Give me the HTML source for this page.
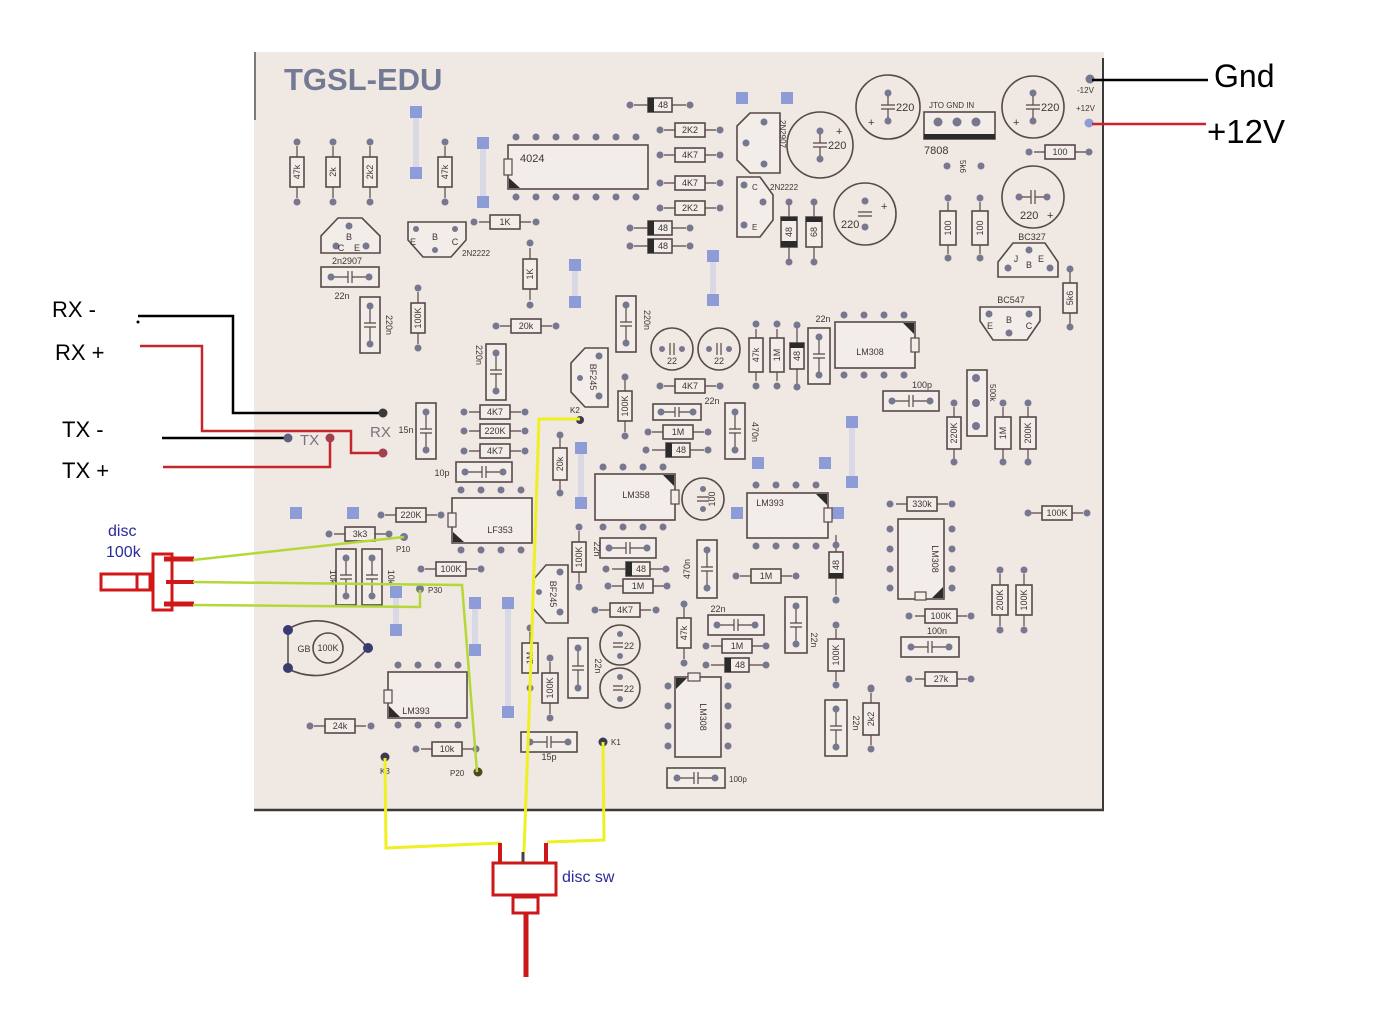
<!DOCTYPE html>
<html><head><meta charset="utf-8">
<style>
html,body{margin:0;padding:0;background:#fff;}
svg{display:block;}
.p{fill:#77778f}
.pb{fill:#8d9bd6}
.lk{fill:#d9d9e6}
.o{fill:#f3ede9;stroke:#574949;stroke-width:1.6}
.n{fill:none;stroke:#574949;stroke-width:1.6}
.l{stroke:#574949;stroke-width:1.2;fill:none}
.d{fill:#2b2b2b}
.t{font-family:"Liberation Sans",sans-serif;font-size:9px;fill:#3e3535;text-anchor:middle}
.s{font-family:"Liberation Sans",sans-serif;font-size:8px;fill:#3e3535}
.e{font-family:"Liberation Sans",sans-serif;font-size:11px;fill:#3e3535}
</style></head><body>
<svg width="1375" height="1014" viewBox="0 0 1375 1014" xmlns="http://www.w3.org/2000/svg">
<!-- board -->
<rect x="254" y="52" width="850" height="759" fill="#efe8e3"/>
<line x1="1103" y1="58" x2="1103" y2="811" stroke="#3a3a3a" stroke-width="2"/>
<line x1="254" y1="810" x2="1104" y2="810" stroke="#3a3a3a" stroke-width="2.5"/>
<line x1="255" y1="52" x2="255" y2="120" stroke="#555" stroke-width="1.5"/>
<text x="284" y="90" font-family="Liberation Sans,sans-serif" font-weight="bold" font-size="31" fill="#737a94">TGSL-EDU</text>

<!-- blue pads & links -->
<rect class="lk" x="413" y="112" width="6" height="61"/><rect class="pb" x="410" y="106" width="12" height="12"/><rect class="pb" x="410" y="167" width="12" height="12"/>
<rect class="lk" x="480" y="143" width="6" height="59"/><rect class="pb" x="477" y="137" width="12" height="12"/><rect class="pb" x="477" y="196" width="12" height="12"/>
<rect class="pb" x="736" y="92" width="12" height="12"/><rect class="pb" x="781" y="92" width="12" height="12"/>
<rect class="lk" x="710" y="256" width="6" height="44"/><rect class="pb" x="707" y="250" width="12" height="12"/><rect class="pb" x="707" y="294" width="12" height="12"/>
<rect class="lk" x="572" y="265" width="6" height="37"/><rect class="pb" x="569" y="259" width="12" height="12"/><rect class="pb" x="569" y="296" width="12" height="12"/>
<rect class="pb" x="290" y="507" width="12" height="12"/><rect class="pb" x="347" y="507" width="12" height="12"/>
<rect class="lk" x="578" y="448" width="6" height="55"/><rect class="pb" x="575" y="442" width="12" height="12"/><rect class="pb" x="575" y="497" width="12" height="12"/>
<rect class="lk" x="849" y="422" width="6" height="60"/><rect class="pb" x="846" y="416" width="12" height="12"/><rect class="pb" x="846" y="476" width="12" height="12"/>
<rect class="pb" x="752" y="457" width="12" height="12"/><rect class="pb" x="819" y="457" width="12" height="12"/>
<rect class="pb" x="832" y="507" width="12" height="12"/><rect class="pb" x="731" y="507" width="12" height="12"/>
<rect class="lk" x="393" y="592" width="6" height="38"/><rect class="pb" x="390" y="586" width="12" height="12"/><rect class="pb" x="390" y="624" width="12" height="12"/>
<rect class="lk" x="472" y="603" width="6" height="47"/><rect class="pb" x="469" y="597" width="12" height="12"/><rect class="pb" x="469" y="644" width="12" height="12"/>
<rect class="lk" x="505" y="603" width="6" height="109"/><rect class="pb" x="502" y="597" width="12" height="12"/><rect class="pb" x="502" y="706" width="12" height="12"/>

<!-- horizontal resistors -->
<g transform="translate(690,130)"><path class="l" d="M-26 0H26"/><rect class="o" x="-15" y="-7" width="30" height="14"/><circle class="p" cx="-30" r="3.5"/><circle class="p" cx="30" r="3.5"/><text class="t" y="3">2K2</text></g>
<g transform="translate(690,155)"><path class="l" d="M-26 0H26"/><rect class="o" x="-15" y="-7" width="30" height="14"/><circle class="p" cx="-30" r="3.5"/><circle class="p" cx="30" r="3.5"/><text class="t" y="3">4K7</text></g>
<g transform="translate(690,183)"><path class="l" d="M-26 0H26"/><rect class="o" x="-15" y="-7" width="30" height="14"/><circle class="p" cx="-30" r="3.5"/><circle class="p" cx="30" r="3.5"/><text class="t" y="3">4K7</text></g>
<g transform="translate(690,208)"><path class="l" d="M-26 0H26"/><rect class="o" x="-15" y="-7" width="30" height="14"/><circle class="p" cx="-30" r="3.5"/><circle class="p" cx="30" r="3.5"/><text class="t" y="3">2K2</text></g>
<g transform="translate(505,222)"><path class="l" d="M-26 0H26"/><rect class="o" x="-15" y="-7" width="30" height="14"/><circle class="p" cx="-31" r="3.5"/><circle class="p" cx="31" r="3.5"/><text class="t" y="3">1K</text></g>
<g transform="translate(526,326)"><path class="l" d="M-26 0H26"/><rect class="o" x="-15" y="-7" width="30" height="14"/><circle class="p" cx="-30" r="3.5"/><circle class="p" cx="30" r="3.5"/><text class="t" y="3">20k</text></g>
<g transform="translate(1060,152)"><path class="l" d="M-26 0H26"/><rect class="o" x="-15" y="-7" width="30" height="14"/><circle class="p" cx="-31" r="3.5"/><circle class="p" cx="29" r="3.5"/><text class="t" y="3">100</text></g>
<g transform="translate(690,386)"><path class="l" d="M-26 0H26"/><rect class="o" x="-15" y="-7" width="30" height="14"/><circle class="p" cx="-30" r="3.5"/><circle class="p" cx="30" r="3.5"/><text class="t" y="3">4K7</text></g>
<g transform="translate(678,432)"><path class="l" d="M-26 0H26"/><rect class="o" x="-15" y="-7" width="30" height="14"/><circle class="p" cx="-30" r="3.5"/><circle class="p" cx="30" r="3.5"/><text class="t" y="3">1M</text></g>
<g transform="translate(495,412)"><path class="l" d="M-26 0H26"/><rect class="o" x="-15" y="-7" width="30" height="14"/><circle class="p" cx="-31" r="3.5"/><circle class="p" cx="30" r="3.5"/><text class="t" y="3">4K7</text></g>
<g transform="translate(495,431)"><path class="l" d="M-26 0H26"/><rect class="o" x="-15" y="-7" width="30" height="14"/><circle class="p" cx="-31" r="3.5"/><circle class="p" cx="30" r="3.5"/><text class="t" y="3">220K</text></g>
<g transform="translate(495,451)"><path class="l" d="M-26 0H26"/><rect class="o" x="-15" y="-7" width="30" height="14"/><circle class="p" cx="-31" r="3.5"/><circle class="p" cx="30" r="3.5"/><text class="t" y="3">4K7</text></g>
<g transform="translate(411,515)"><path class="l" d="M-26 0H26"/><rect class="o" x="-15" y="-7" width="30" height="14"/><circle class="p" cx="-30" r="3.5"/><circle class="p" cx="30" r="3.5"/><text class="t" y="3">220K</text></g>
<g transform="translate(360,534)"><path class="l" d="M-26 0H26"/><rect class="o" x="-15" y="-7" width="30" height="14"/><circle class="p" cx="-31" r="3.5"/><circle class="p" cx="29" r="3.5"/><text class="t" y="3">3k3</text></g>
<g transform="translate(451,569)"><path class="l" d="M-26 0H26"/><rect class="o" x="-15" y="-7" width="30" height="14"/><circle class="p" cx="-30" r="3.5"/><circle class="p" cx="30" r="3.5"/><text class="t" y="3">100K</text></g>
<g transform="translate(638,586)"><path class="l" d="M-26 0H26"/><rect class="o" x="-15" y="-7" width="30" height="14"/><circle class="p" cx="-30" r="3.5"/><circle class="p" cx="29" r="3.5"/><text class="t" y="3">1M</text></g>
<g transform="translate(625,610)"><path class="l" d="M-26 0H26"/><rect class="o" x="-15" y="-7" width="30" height="14"/><circle class="p" cx="-30" r="3.5"/><circle class="p" cx="31" r="3.5"/><text class="t" y="3">4K7</text></g>
<g transform="translate(766,576)"><path class="l" d="M-26 0H26"/><rect class="o" x="-15" y="-7" width="30" height="14"/><circle class="p" cx="-30" r="3.5"/><circle class="p" cx="30" r="3.5"/><text class="t" y="3">1M</text></g>
<g transform="translate(737,646)"><path class="l" d="M-26 0H26"/><rect class="o" x="-15" y="-7" width="30" height="14"/><circle class="p" cx="-31" r="3.5"/><circle class="p" cx="29" r="3.5"/><text class="t" y="3">1M</text></g>
<g transform="translate(922,504)"><path class="l" d="M-26 0H26"/><rect class="o" x="-15" y="-7" width="30" height="14"/><circle class="p" cx="-32" r="3.5"/><circle class="p" cx="30" r="3.5"/><text class="t" y="3">330k</text></g>
<g transform="translate(941,616)"><path class="l" d="M-26 0H26"/><rect class="o" x="-16" y="-7" width="32" height="14"/><circle class="p" cx="-32" r="3.5"/><circle class="p" cx="30" r="3.5"/><text class="t" y="3">100K</text></g>
<g transform="translate(941,679)"><path class="l" d="M-26 0H26"/><rect class="o" x="-16" y="-7" width="32" height="14"/><circle class="p" cx="-32" r="3.5"/><circle class="p" cx="30" r="3.5"/><text class="t" y="3">27k</text></g>
<g transform="translate(1057,513)"><path class="l" d="M-26 0H26"/><rect class="o" x="-15" y="-7" width="30" height="14"/><circle class="p" cx="-29" r="3.5"/><circle class="p" cx="30" r="3.5"/><text class="t" y="3">100K</text></g>
<g transform="translate(340,726)"><path class="l" d="M-26 0H26"/><rect class="o" x="-15" y="-7" width="30" height="14"/><circle class="p" cx="-30" r="3.5"/><circle class="p" cx="31" r="3.5"/><text class="t" y="3">24k</text></g>
<g transform="translate(447,749)"><path class="l" d="M-26 0H26"/><rect class="o" x="-15" y="-7" width="30" height="14"/><circle class="p" cx="-31" r="3.5"/><circle class="p" cx="29" r="3.5"/><text class="t" y="3">10k</text></g>

<!-- horizontal diodes -->
<g transform="translate(660,105)"><path class="l" d="M-26 0H26"/><rect class="o" x="-12" y="-7" width="24" height="14"/><rect class="d" x="-12" y="-7" width="6" height="14"/><circle class="p" cx="-30" r="3.5"/><circle class="p" cx="30" r="3.5"/><text class="t" x="3" y="3">48</text></g>
<g transform="translate(660,228)"><path class="l" d="M-26 0H26"/><rect class="o" x="-12" y="-7" width="24" height="14"/><rect class="d" x="-12" y="-7" width="6" height="14"/><circle class="p" cx="-30" r="3.5"/><circle class="p" cx="30" r="3.5"/><text class="t" x="3" y="3">48</text></g>
<g transform="translate(660,246)"><path class="l" d="M-26 0H26"/><rect class="o" x="-12" y="-7" width="24" height="14"/><rect class="d" x="-12" y="-7" width="6" height="14"/><circle class="p" cx="-30" r="3.5"/><circle class="p" cx="30" r="3.5"/><text class="t" x="3" y="3">48</text></g>
<g transform="translate(678,450)"><path class="l" d="M-26 0H26"/><rect class="o" x="-12" y="-7" width="24" height="14"/><rect class="d" x="-12" y="-7" width="6" height="14"/><circle class="p" cx="-32" r="3.5"/><circle class="p" cx="30" r="3.5"/><text class="t" x="3" y="3">48</text></g>
<g transform="translate(638,569)"><path class="l" d="M-26 0H26"/><rect class="o" x="-12" y="-7" width="24" height="14"/><rect class="d" x="-12" y="-7" width="6" height="14"/><circle class="p" cx="-32" r="3.5"/><circle class="p" cx="28" r="3.5"/><text class="t" x="3" y="3">48</text></g>
<g transform="translate(737,665)"><path class="l" d="M-26 0H26"/><rect class="o" x="-12" y="-7" width="24" height="14"/><rect class="d" x="-12" y="-7" width="6" height="14"/><circle class="p" cx="-31" r="3.5"/><circle class="p" cx="29" r="3.5"/><text class="t" x="3" y="3">48</text></g>

<!-- vertical resistors -->
<g transform="translate(297,172) rotate(-90)"><path class="l" d="M-26 0H26"/><rect class="o" x="-15" y="-7" width="30" height="14"/><circle class="p" cx="-30" r="3.5"/><circle class="p" cx="30" r="3.5"/><text class="t" y="3">47k</text></g>
<g transform="translate(333,172) rotate(-90)"><path class="l" d="M-26 0H26"/><rect class="o" x="-15" y="-7" width="30" height="14"/><circle class="p" cx="-30" r="3.5"/><circle class="p" cx="30" r="3.5"/><text class="t" y="3">2k</text></g>
<g transform="translate(370,172) rotate(-90)"><path class="l" d="M-26 0H26"/><rect class="o" x="-15" y="-7" width="30" height="14"/><circle class="p" cx="-30" r="3.5"/><circle class="p" cx="30" r="3.5"/><text class="t" y="3">2k2</text></g>
<g transform="translate(445,172) rotate(-90)"><path class="l" d="M-26 0H26"/><rect class="o" x="-15" y="-7" width="30" height="14"/><circle class="p" cx="-30" r="3.5"/><circle class="p" cx="30" r="3.5"/><text class="t" y="3">47k</text></g>
<g transform="translate(530,274) rotate(-90)"><path class="l" d="M-26 0H26"/><rect class="o" x="-15" y="-7" width="30" height="14"/><circle class="p" cx="-31" r="3.5"/><circle class="p" cx="31" r="3.5"/><text class="t" y="3">1K</text></g>
<g transform="translate(418,318) rotate(-90)"><path class="l" d="M-26 0H26"/><rect class="o" x="-15" y="-7" width="30" height="14"/><circle class="p" cx="-30" r="3.5"/><circle class="p" cx="30" r="3.5"/><text class="t" y="3">100K</text></g>
<g transform="translate(948,228) rotate(-90)"><path class="l" d="M-26 0H26"/><rect class="o" x="-17" y="-8" width="34" height="16"/><circle class="p" cx="-30" r="3.5"/><circle class="p" cx="30" r="3.5"/><text class="t" y="3">100</text></g>
<g transform="translate(980,228) rotate(-90)"><path class="l" d="M-26 0H26"/><rect class="o" x="-17" y="-8" width="34" height="16"/><circle class="p" cx="-30" r="3.5"/><circle class="p" cx="30" r="3.5"/><text class="t" y="3">100</text></g>
<g transform="translate(1070,298) rotate(-90)"><path class="l" d="M-26 0H26"/><rect class="o" x="-15" y="-7" width="30" height="14"/><circle class="p" cx="-29" r="3.5"/><circle class="p" cx="29" r="3.5"/><text class="t" y="3">5k6</text></g>
<g transform="translate(756,355) rotate(-90)"><path class="l" d="M-26 0H26"/><rect class="o" x="-17" y="-7" width="34" height="14"/><circle class="p" cx="-31" r="3.5"/><circle class="p" cx="31" r="3.5"/><text class="t" y="3">47k</text></g>
<g transform="translate(777,355) rotate(-90)"><path class="l" d="M-26 0H26"/><rect class="o" x="-17" y="-7" width="34" height="14"/><circle class="p" cx="-31" r="3.5"/><circle class="p" cx="31" r="3.5"/><text class="t" y="3">1M</text></g>
<g transform="translate(625,406) rotate(-90)"><path class="l" d="M-26 0H26"/><rect class="o" x="-15" y="-7" width="30" height="14"/><circle class="p" cx="-30" r="3.5"/><circle class="p" cx="29" r="3.5"/><text class="t" y="3">100K</text></g>
<g transform="translate(560,464) rotate(-90)"><path class="l" d="M-26 0H26"/><rect class="o" x="-16" y="-7" width="32" height="14"/><circle class="p" cx="-29" r="3.5"/><circle class="p" cx="29" r="3.5"/><text class="t" y="3">20k</text></g>
<g transform="translate(954,433) rotate(-90)"><path class="l" d="M-26 0H26"/><rect class="o" x="-16" y="-7" width="32" height="14"/><circle class="p" cx="-29" r="3.5"/><circle class="p" cx="30" r="3.5"/><text class="t" y="3">220K</text></g>
<g transform="translate(1003,433) rotate(-90)"><path class="l" d="M-26 0H26"/><rect class="o" x="-16" y="-8" width="32" height="16"/><circle class="p" cx="-29" r="3.5"/><circle class="p" cx="30" r="3.5"/><text class="t" y="3">1M</text></g>
<g transform="translate(1028,433) rotate(-90)"><path class="l" d="M-26 0H26"/><rect class="o" x="-16" y="-8" width="32" height="16"/><circle class="p" cx="-29" r="3.5"/><circle class="p" cx="30" r="3.5"/><text class="t" y="3">200K</text></g>
<g transform="translate(579,557) rotate(-90)"><path class="l" d="M-26 0H26"/><rect class="o" x="-15" y="-7" width="30" height="14"/><circle class="p" cx="-30" r="3.5"/><circle class="p" cx="30" r="3.5"/><text class="t" y="3">100K</text></g>
<g transform="translate(684,633) rotate(-90)"><path class="l" d="M-26 0H26"/><rect class="o" x="-15" y="-7" width="30" height="14"/><circle class="p" cx="-30" r="3.5"/><circle class="p" cx="29" r="3.5"/><text class="t" y="3">47k</text></g>
<g transform="translate(836,655) rotate(-90)"><path class="l" d="M-26 0H26"/><rect class="o" x="-16" y="-8" width="32" height="16"/><circle class="p" cx="-30" r="3.5"/><circle class="p" cx="30" r="3.5"/><text class="t" y="3">100K</text></g>
<g transform="translate(530,658) rotate(-90)"><path class="l" d="M-26 0H26"/><rect class="o" x="-15" y="-8" width="30" height="16"/><circle class="p" cx="-30" r="3.5"/><circle class="p" cx="30" r="3.5"/><text class="t" y="3">1M</text></g>
<g transform="translate(550,688) rotate(-90)"><path class="l" d="M-26 0H26"/><rect class="o" x="-15" y="-8" width="30" height="16"/><circle class="p" cx="-30" r="3.5"/><circle class="p" cx="30" r="3.5"/><text class="t" y="3">100K</text></g>
<g transform="translate(871,719) rotate(-90)"><path class="l" d="M-26 0H26"/><rect class="o" x="-16" y="-8" width="32" height="16"/><circle class="p" cx="-30" r="3.5"/><circle class="p" cx="30" r="3.5"/><text class="t" y="3">2k2</text></g>
<g transform="translate(1000,600) rotate(-90)"><path class="l" d="M-26 0H26"/><rect class="o" x="-15" y="-8" width="30" height="16"/><circle class="p" cx="-30" r="3.5"/><circle class="p" cx="30" r="3.5"/><text class="t" y="3">200K</text></g>
<g transform="translate(1024,600) rotate(-90)"><path class="l" d="M-26 0H26"/><rect class="o" x="-15" y="-8" width="30" height="16"/><circle class="p" cx="-30" r="3.5"/><circle class="p" cx="30" r="3.5"/><text class="t" y="3">100K</text></g>

<!-- vertical diodes -->
<g transform="translate(789,232) rotate(-90)"><path class="l" d="M-30 0H30"/><rect class="o" x="-15" y="-8" width="30" height="16"/><rect class="d" x="-15" y="-8" width="6" height="16"/><rect class="d" x="11" y="-8" width="4" height="16"/><circle class="p" cx="-30" r="3.5"/><circle class="p" cx="30" r="3.5"/><text class="t" y="3">48</text></g>
<g transform="translate(814,232) rotate(-90)"><path class="l" d="M-30 0H30"/><rect class="o" x="-15" y="-8" width="30" height="16"/><rect class="d" x="10" y="-8" width="5" height="16"/><circle class="p" cx="-30" r="3.5"/><circle class="p" cx="30" r="3.5"/><text class="t" y="3">68</text></g>
<g transform="translate(797,356) rotate(-90)"><path class="l" d="M-30 0H30"/><rect class="o" x="-13" y="-7" width="26" height="14"/><rect class="d" x="8" y="-7" width="5" height="14"/><circle class="p" cx="-31" r="3.5"/><circle class="p" cx="31" r="3.5"/><text class="t" y="3">48</text></g>
<g transform="translate(836,565) rotate(-90)"><path class="l" d="M-30 0H30"/><rect class="o" x="-13" y="-7" width="26" height="14"/><rect class="d" x="-13" y="-7" width="5" height="14"/><circle class="p" cx="-35" r="3.5"/><circle class="p" cx="20" r="3.5"/><text class="t" y="3">48</text></g>

<!-- vertical caps -->
<g transform="translate(370,325) rotate(90)"><rect class="o" x="-28" y="-10" width="56" height="20"/><path class="l" d="M-19 0H-2M2 0H19M-2-6V6M2-6V6"/><circle class="p" cx="-19" r="3.5"/><circle class="p" cx="19" r="3.5"/></g>
<g transform="translate(626,324) rotate(90)"><rect class="o" x="-28" y="-10" width="56" height="20"/><path class="l" d="M-19 0H-2M2 0H19M-2-6V6M2-6V6"/><circle class="p" cx="-19" r="3.5"/><circle class="p" cx="19" r="3.5"/></g>
<g transform="translate(819,356) rotate(90)"><rect class="o" x="-28" y="-11" width="56" height="22"/><path class="l" d="M-19 0H-2M2 0H19M-2-6V6M2-6V6"/><circle class="p" cx="-19" r="3.5"/><circle class="p" cx="19" r="3.5"/></g>
<g transform="translate(496,372) rotate(90)"><rect class="o" x="-28" y="-10" width="56" height="20"/><path class="l" d="M-19 0H-2M2 0H19M-2-6V6M2-6V6"/><circle class="p" cx="-19" r="3.5"/><circle class="p" cx="19" r="3.5"/></g>
<g transform="translate(426,431) rotate(90)"><rect class="o" x="-28" y="-10" width="56" height="20"/><path class="l" d="M-19 0H-2M2 0H19M-2-6V6M2-6V6"/><circle class="p" cx="-19" r="3.5"/><circle class="p" cx="19" r="3.5"/></g>
<g transform="translate(735,431) rotate(90)"><rect class="o" x="-28" y="-10" width="56" height="20"/><path class="l" d="M-19 0H-2M2 0H19M-2-6V6M2-6V6"/><circle class="p" cx="-19" r="3.5"/><circle class="p" cx="19" r="3.5"/></g>
<g transform="translate(346,577) rotate(90)"><rect class="o" x="-28" y="-10" width="56" height="20"/><path class="l" d="M-19 0H-2M2 0H19M-2-6V6M2-6V6"/><circle class="p" cx="-19" r="3.5"/><circle class="p" cx="19" r="3.5"/></g>
<g transform="translate(372,577) rotate(90)"><rect class="o" x="-28" y="-10" width="56" height="20"/><path class="l" d="M-19 0H-2M2 0H19M-2-6V6M2-6V6"/><circle class="p" cx="-19" r="3.5"/><circle class="p" cx="19" r="3.5"/></g>
<g transform="translate(707,569) rotate(90)"><rect class="o" x="-29" y="-10" width="58" height="20"/><path class="l" d="M-19 0H-2M2 0H19M-2-6V6M2-6V6"/><circle class="p" cx="-19" r="3.5"/><circle class="p" cx="19" r="3.5"/></g>
<g transform="translate(796,625) rotate(90)"><rect class="o" x="-28" y="-11" width="56" height="22"/><path class="l" d="M-19 0H-2M2 0H19M-2-6V6M2-6V6"/><circle class="p" cx="-19" r="3.5"/><circle class="p" cx="19" r="3.5"/></g>
<g transform="translate(578,668) rotate(90)"><rect class="o" x="-30" y="-10" width="60" height="20"/><path class="l" d="M-20 0H-2M2 0H20M-2-6V6M2-6V6"/><circle class="p" cx="-20" r="3.5"/><circle class="p" cx="20" r="3.5"/></g>
<g transform="translate(836,728) rotate(90)"><rect class="o" x="-28" y="-11" width="56" height="22"/><path class="l" d="M-19 0H-2M2 0H19M-2-6V6M2-6V6"/><circle class="p" cx="-19" r="3.5"/><circle class="p" cx="19" r="3.5"/></g>

<!-- horizontal caps -->
<g transform="translate(350,277)"><rect class="o" x="-29" y="-10" width="58" height="20"/><path class="l" d="M-19 0H-2M2 0H19M-2-6V6M2-6V6"/><circle class="p" cx="-19" r="3.5"/><circle class="p" cx="19" r="3.5"/></g>
<g transform="translate(484,472)"><rect class="o" x="-28" y="-10" width="56" height="20"/><path class="l" d="M-19 0H-2M2 0H19M-2-6V6M2-6V6"/><circle class="p" cx="-19" r="3.5"/><circle class="p" cx="19" r="3.5"/></g>
<g transform="translate(911,401)"><rect class="o" x="-28" y="-10" width="56" height="20"/><path class="l" d="M-19 0H-2M2 0H19M-2-6V6M2-6V6"/><circle class="p" cx="-19" r="3.5"/><circle class="p" cx="19" r="3.5"/></g>
<g transform="translate(677,412)"><rect class="o" x="-24" y="-8" width="48" height="16"/><path class="l" d="M-16 0H-2M2 0H16M-2-5V5M2-5V5"/><circle class="p" cx="-16" r="3.5"/><circle class="p" cx="16" r="3.5"/></g>
<g transform="translate(628,548)"><rect class="o" x="-28" y="-10" width="56" height="20"/><path class="l" d="M-19 0H-2M2 0H19M-2-6V6M2-6V6"/><circle class="p" cx="-19" r="3.5"/><circle class="p" cx="19" r="3.5"/></g>
<g transform="translate(736,625)"><rect class="o" x="-28" y="-10" width="56" height="20"/><path class="l" d="M-19 0H-2M2 0H19M-2-6V6M2-6V6"/><circle class="p" cx="-19" r="3.5"/><circle class="p" cx="19" r="3.5"/></g>
<g transform="translate(930,647)"><rect class="o" x="-29" y="-10" width="58" height="20"/><path class="l" d="M-19 0H-2M2 0H19M-2-6V6M2-6V6"/><circle class="p" cx="-19" r="3.5"/><circle class="p" cx="19" r="3.5"/></g>
<g transform="translate(549,742)"><rect class="o" x="-28" y="-10" width="56" height="20"/><path class="l" d="M-19 0H-2M2 0H19M-2-6V6M2-6V6"/><circle class="p" cx="-19" r="3.5"/><circle class="p" cx="19" r="3.5"/></g>
<g transform="translate(696,778)"><rect class="o" x="-29" y="-10" width="58" height="20"/><path class="l" d="M-19 0H-2M2 0H19M-2-6V6M2-6V6"/><circle class="p" cx="-19" r="3.5"/><circle class="p" cx="19" r="3.5"/></g>

<!-- cap labels -->
<text class="t" x="342" y="299">22n</text>
<text class="t" x="442" y="476">10p</text>
<text class="t" x="922" y="388">100p</text>
<text class="t" x="712" y="404">22n</text>
<text class="t" x="937" y="634">100n</text>
<text class="t" x="549" y="760">15p</text>
<text class="s" x="729" y="782">100p</text>
<text class="t" x="718" y="612">22n</text>
<text class="t" x="823" y="322">22n</text>
<text class="t" x="406" y="433">15n</text>
<text class="t" transform="translate(386,325) rotate(90)">220n</text>
<text class="t" transform="translate(644,320) rotate(90)">220n</text>
<text class="t" transform="translate(476,355) rotate(90)">220n</text>
<text class="t" transform="translate(752,432) rotate(90)">470n</text>
<text class="t" transform="translate(690,569) rotate(-90)">470n</text>
<text class="t" transform="translate(811,640) rotate(90)">22n</text>
<text class="t" transform="translate(595,666) rotate(90)">22n</text>
<text class="t" transform="translate(853,723) rotate(90)">22n</text>
<text class="t" transform="translate(594,549) rotate(90)">22n</text>
<text class="t" transform="translate(330,577) rotate(90)">10k</text>
<text class="t" transform="translate(388,577) rotate(90)">10k</text>

<!-- ICs -->
<g><rect class="o" x="508" y="145" width="140" height="44"/><rect x="504" y="159" width="8" height="16" fill="#f3ede9" stroke="#574949" stroke-width="1.2"/><path class="d" d="M509 178L509 188L520 188Z"/><text class="e" x="520" y="162">4024</text>
<circle class="p" cx="516" cy="137" r="3.5"/><circle class="p" cx="536" cy="137" r="3.5"/><circle class="p" cx="556" cy="137" r="3.5"/><circle class="p" cx="576" cy="137" r="3.5"/><circle class="p" cx="596" cy="137" r="3.5"/><circle class="p" cx="616" cy="137" r="3.5"/><circle class="p" cx="636" cy="137" r="3.5"/>
<circle class="p" cx="516" cy="197" r="3.5"/><circle class="p" cx="536" cy="197" r="3.5"/><circle class="p" cx="556" cy="197" r="3.5"/><circle class="p" cx="576" cy="197" r="3.5"/><circle class="p" cx="596" cy="197" r="3.5"/><circle class="p" cx="616" cy="197" r="3.5"/><circle class="p" cx="636" cy="197" r="3.5"/></g>

<g><rect class="o" x="835" y="322" width="80" height="46"/><rect x="911" y="338" width="8" height="14" fill="#f3ede9" stroke="#574949" stroke-width="1.2"/><path class="d" d="M903 323L914 323L914 334Z"/><text class="t" x="870" y="355">LM308</text>
<circle class="p" cx="844" cy="315" r="3.5"/><circle class="p" cx="864" cy="315" r="3.5"/><circle class="p" cx="884" cy="315" r="3.5"/><circle class="p" cx="904" cy="315" r="3.5"/>
<circle class="p" cx="844" cy="375" r="3.5"/><circle class="p" cx="864" cy="375" r="3.5"/><circle class="p" cx="884" cy="375" r="3.5"/><circle class="p" cx="904" cy="375" r="3.5"/></g>

<g><rect class="o" x="452" y="498" width="80" height="45"/><rect x="448" y="513" width="8" height="14" fill="#f3ede9" stroke="#574949" stroke-width="1.2"/><path class="d" d="M453 532L453 542L464 542Z"/><text class="t" x="500" y="533">LF353</text>
<circle class="p" cx="461" cy="490" r="3.5"/><circle class="p" cx="481" cy="490" r="3.5"/><circle class="p" cx="501" cy="490" r="3.5"/><circle class="p" cx="521" cy="490" r="3.5"/>
<circle class="p" cx="461" cy="550" r="3.5"/><circle class="p" cx="481" cy="550" r="3.5"/><circle class="p" cx="501" cy="550" r="3.5"/><circle class="p" cx="521" cy="550" r="3.5"/></g>

<g><rect class="o" x="595" y="474" width="80" height="46"/><rect x="671" y="490" width="8" height="14" fill="#f3ede9" stroke="#574949" stroke-width="1.2"/><path class="d" d="M663 475L674 475L674 486Z"/><text class="t" x="636" y="498">LM358</text>
<circle class="p" cx="603" cy="467" r="3.5"/><circle class="p" cx="623" cy="467" r="3.5"/><circle class="p" cx="643" cy="467" r="3.5"/><circle class="p" cx="663" cy="467" r="3.5"/>
<circle class="p" cx="603" cy="527" r="3.5"/><circle class="p" cx="623" cy="527" r="3.5"/><circle class="p" cx="643" cy="527" r="3.5"/><circle class="p" cx="663" cy="527" r="3.5"/></g>

<g><rect class="o" x="747" y="493" width="81" height="45"/><rect x="824" y="508" width="8" height="14" fill="#f3ede9" stroke="#574949" stroke-width="1.2"/><path class="d" d="M816 494L827 494L827 505Z"/><text class="t" x="770" y="506">LM393</text>
<circle class="p" cx="756" cy="485" r="3.5"/><circle class="p" cx="776" cy="485" r="3.5"/><circle class="p" cx="796" cy="485" r="3.5"/><circle class="p" cx="816" cy="485" r="3.5"/>
<circle class="p" cx="756" cy="546" r="3.5"/><circle class="p" cx="776" cy="546" r="3.5"/><circle class="p" cx="796" cy="546" r="3.5"/><circle class="p" cx="816" cy="546" r="3.5"/></g>

<g><rect class="o" x="388" y="672" width="79" height="46"/><rect x="384" y="690" width="8" height="13" fill="#f3ede9" stroke="#574949" stroke-width="1.2"/><path class="d" d="M389 706L389 717L400 717Z"/><text class="t" x="416" y="714">LM393</text>
<circle class="p" cx="398" cy="665" r="3.5"/><circle class="p" cx="418" cy="665" r="3.5"/><circle class="p" cx="438" cy="665" r="3.5"/><circle class="p" cx="458" cy="665" r="3.5"/>
<circle class="p" cx="398" cy="725" r="3.5"/><circle class="p" cx="418" cy="725" r="3.5"/><circle class="p" cx="438" cy="725" r="3.5"/><circle class="p" cx="458" cy="725" r="3.5"/></g>

<g><rect class="o" x="675" y="677" width="46" height="80"/><rect x="688" y="673" width="12" height="8" fill="#f3ede9" stroke="#574949" stroke-width="1.2"/><path class="d" d="M676 678L687 678L676 689Z"/><text class="t" transform="translate(700,717) rotate(90)">LM308</text>
<circle class="p" cx="668" cy="686" r="3.5"/><circle class="p" cx="668" cy="706" r="3.5"/><circle class="p" cx="668" cy="726" r="3.5"/><circle class="p" cx="668" cy="746" r="3.5"/>
<circle class="p" cx="728" cy="686" r="3.5"/><circle class="p" cx="728" cy="706" r="3.5"/><circle class="p" cx="728" cy="726" r="3.5"/><circle class="p" cx="728" cy="746" r="3.5"/></g>

<g><rect class="o" x="898" y="519" width="46" height="80"/><rect x="915" y="592" width="11" height="8" fill="#f3ede9" stroke="#574949" stroke-width="1.2"/><path class="d" d="M943 587L943 598L932 598Z"/><text class="t" transform="translate(932,559) rotate(90)">LM308</text>
<circle class="p" cx="890" cy="529" r="3.5"/><circle class="p" cx="890" cy="549" r="3.5"/><circle class="p" cx="890" cy="569" r="3.5"/><circle class="p" cx="890" cy="588" r="3.5"/>
<circle class="p" cx="952" cy="529" r="3.5"/><circle class="p" cx="952" cy="549" r="3.5"/><circle class="p" cx="952" cy="569" r="3.5"/><circle class="p" cx="952" cy="588" r="3.5"/></g>

<!-- electrolytics -->
<g transform="translate(888,107)"><circle class="n" r="32"/><circle class="p" cy="-14" r="3.5"/><circle class="p" cy="14" r="3.5"/><path class="l" d="M-7-2H7M-7 2H7M0-11V-2M0 2V11"/><text class="e" x="8" y="4">220</text><text class="e" x="-20" y="19">+</text></g>
<g transform="translate(820,145)"><circle class="n" r="33"/><circle class="p" cy="-14" r="3.5"/><circle class="p" cy="14" r="3.5"/><path class="l" d="M-7-2H7M-7 2H7M0-11V-2M0 2V11"/><text class="e" x="8" y="4">220</text><text class="e" x="16" y="-10">+</text></g>
<g transform="translate(865,214)"><circle class="n" r="31"/><circle class="p" cy="-13" r="3.5"/><circle class="p" cy="13" r="3.5"/><path class="l" d="M-7-2H7M-7 2H7"/><text class="e" x="-24" y="14">220</text><text class="e" x="16" y="-4">+</text></g>
<g transform="translate(1033,107)"><circle class="n" r="31"/><circle class="p" cy="-14" r="3.5"/><circle class="p" cy="14" r="3.5"/><path class="l" d="M-7-2H7M-7 2H7M0-11V-2M0 2V11"/><text class="e" x="8" y="4">220</text><text class="e" x="-20" y="19">+</text></g>
<g transform="translate(1033,197)"><circle class="n" r="31"/><circle class="p" cx="-14" r="3.5"/><circle class="p" cx="14" r="3.5"/><path class="l" d="M-2-7V7M2-7V7M-11 0H-2M2 0H11"/><text class="e" x="-13" y="22">220</text><text class="e" x="14" y="22">+</text></g>
<g transform="translate(672,349)"><circle class="n" r="21"/><circle class="p" cx="-10" r="3"/><circle class="p" cx="10" r="3"/><path class="l" d="M-2-6V6M2-6V6"/><text class="t" y="15">22</text></g>
<g transform="translate(719,349)"><circle class="n" r="21"/><circle class="p" cx="-10" r="3"/><circle class="p" cx="10" r="3"/><path class="l" d="M-2-6V6M2-6V6"/><text class="t" y="15">22</text></g>
<g transform="translate(703,499)"><circle class="n" r="21"/><circle class="p" cy="-10" r="3"/><circle class="p" cy="10" r="3"/><path class="l" d="M-6-2H6M-6 2H6"/><text class="t" transform="translate(12,0) rotate(-90)">100</text></g>
<g transform="translate(620,645)"><circle class="n" r="20"/><circle class="p" cy="-11" r="3"/><circle class="p" cy="11" r="3"/><path class="l" d="M-7-2H3M-7 2H3"/><text class="t" x="9" y="4">22</text></g>
<g transform="translate(620,688)"><circle class="n" r="20"/><circle class="p" cy="-11" r="3"/><circle class="p" cy="11" r="3"/><path class="l" d="M-7-2H3M-7 2H3"/><text class="t" x="9" y="4">22</text></g>

<!-- transistors -->
<polygon class="o" points="321,253 321,236 338,218 362,218 380,236 380,253"/>
<circle class="p" cx="336" cy="246" r="3.5"/><circle class="p" cx="366" cy="246" r="3.5"/><circle class="p" cx="349" cy="226" r="3.5"/>
<text class="t" x="349" y="240">B</text><text class="t" x="341" y="251">C</text><text class="t" x="357" y="251">E</text>
<text class="t" x="347" y="264">2n2907</text>

<polygon class="o" points="408,222 466,222 466,240 451,257 423,257 408,240"/>
<circle class="p" cx="416" cy="229" r="3"/><circle class="p" cx="455" cy="229" r="3"/><circle class="p" cx="435" cy="250" r="3"/>
<text class="t" x="413" y="245">E</text><text class="t" x="435" y="240">B</text><text class="t" x="455" y="245">C</text>
<text class="s" x="462" y="256">2N2222</text>

<polygon class="o" points="750,113 780,113 780,173 750,173 737,160 737,126"/>
<circle class="p" cx="764" cy="122" r="3.5"/><circle class="p" cx="746" cy="143" r="3.5"/><circle class="p" cx="764" cy="164" r="3.5"/>
<text class="s" transform="translate(780,120) rotate(90)">2N2907</text>

<polygon class="o" points="737,177 760,177 773,195 773,220 760,237 737,237"/>
<circle class="p" cx="744" cy="185" r="3.5"/><circle class="p" cx="763" cy="202" r="3.5"/><circle class="p" cx="744" cy="225" r="3.5"/>
<text class="s" x="752" y="190">C</text><text class="s" x="752" y="230">E</text>
<text class="s" x="770" y="190">2N2222</text>

<polygon class="o" points="998,262 1013,243 1045,243 1058,262 1058,277 998,277"/>
<circle class="p" cx="1008" cy="268" r="3.5"/><circle class="p" cx="1029" cy="250" r="3.5"/><circle class="p" cx="1050" cy="268" r="3.5"/>
<text class="t" x="1016" y="262">J</text><text class="t" x="1029" y="268">B</text><text class="t" x="1041" y="262">E</text>
<text class="t" x="1032" y="240">BC327</text>

<polygon class="o" points="980,307 1040,307 1040,321 1027,340 993,340 980,321"/>
<circle class="p" cx="989" cy="314" r="3.5"/><circle class="p" cx="1029" cy="314" r="3.5"/><circle class="p" cx="1009" cy="333" r="3.5"/>
<text class="t" x="990" y="329">E</text><text class="t" x="1009" y="323">B</text><text class="t" x="1029" y="329">C</text>
<text class="t" x="1011" y="303">BC547</text>

<polygon class="o" points="585,348 608,348 608,407 585,407 571,392 571,363"/>
<circle class="p" cx="599" cy="356" r="3.5"/><circle class="p" cx="580" cy="378" r="3"/><circle class="p" cx="599" cy="396" r="3.5"/>
<text class="t" transform="translate(590,377) rotate(90)">BF245</text>
<text class="s" x="570" y="413">K2</text>

<polygon class="o" points="546,565 568,565 568,623 546,623 533,608 533,580"/>
<circle class="p" cx="560" cy="572" r="3.5"/><circle class="p" cx="539" cy="592" r="3"/><circle class="p" cx="560" cy="612" r="3.5"/>
<text class="t" transform="translate(550,594) rotate(90)">BF245</text>

<!-- 7808 regulator -->
<rect class="o" x="924" y="112" width="71" height="27"/><rect class="d" x="924" y="134" width="71" height="5"/>
<circle class="p" cx="938" cy="122" r="4.5"/><circle class="p" cx="957" cy="122" r="4.5"/><circle class="p" cx="976" cy="122" r="4.5"/>
<text class="s" x="929" y="108" font-size="7">JTO GND IN</text>
<text class="e" x="924" y="154">7808</text>
<circle class="p" cx="947" cy="166" r="3.5"/><circle class="p" cx="981" cy="166" r="3.5"/>
<text class="s" transform="translate(960,160) rotate(90)">5k6</text>

<!-- trimmer -->
<rect class="o" x="967" y="370" width="20" height="66"/>
<circle class="p" cx="976" cy="378" r="4"/><circle class="p" cx="976" cy="403" r="4"/><circle class="p" cx="976" cy="426" r="4"/>
<text class="s" transform="translate(990,384) rotate(90)">500k</text>

<!-- pot -->
<path class="n" d="M286 630 Q330 605 368 648 Q330 690 286 668"/>
<line x1="288" y1="630" x2="288" y2="668" stroke="#574949" stroke-width="1.5"/>
<circle class="n" cx="328" cy="648" r="15"/>
<text class="t" x="328" y="651">100K</text>
<text class="t" x="304" y="652">GB</text>
<circle cx="288" cy="630" r="5" fill="#3a3a70"/><circle cx="288" cy="668" r="5" fill="#3a3a70"/><circle cx="368" cy="648" r="5" fill="#3a3a70"/>

<!-- misc pads -->
<circle class="p" cx="404" cy="537" r="4"/><text class="s" x="396" y="552">P10</text>
<circle class="p" cx="420" cy="589" r="4"/><text class="s" x="428" y="593">P30</text>
<circle cx="478" cy="772" r="4.5" fill="#4a4a20"/><text class="s" x="450" y="776">P20</text>
<circle cx="385" cy="757" r="4.5" fill="#3a3a50"/><text class="s" x="380" y="774">K3</text>
<circle cx="603" cy="742" r="4.5" fill="#3a3a50"/><text class="s" x="611" y="745">K1</text>
<circle cx="580" cy="420" r="4" fill="#3a3a50"/>
<circle class="p" cx="836" cy="600" r="3.5"/><circle class="p" cx="871" cy="688" r="3.5"/>

<!-- power pads / labels -->
<circle class="p" cx="1090" cy="79" r="4.5"/><circle class="pb" cx="1089" cy="123" r="4.5"/>
<text class="s" x="1077" y="93" font-size="7">-12V</text><text class="s" x="1076" y="111" font-size="7">+12V</text>
<line x1="1092" y1="80" x2="1208" y2="80" stroke="#000" stroke-width="2.5"/>
<line x1="1092" y1="124" x2="1206" y2="124" stroke="#d0202a" stroke-width="2.5"/>
<text x="1214" y="87" font-family="Liberation Sans,sans-serif" font-size="32" fill="#000">Gnd</text>
<text x="1207" y="143" font-family="Liberation Sans,sans-serif" font-size="33" fill="#000">+12V</text>

<!-- RX/TX -->
<text x="370" y="437" font-family="Liberation Sans,sans-serif" font-size="15" fill="#7a7080">RX</text>
<text x="300" y="445" font-family="Liberation Sans,sans-serif" font-size="15" fill="#7a7080">TX</text>
<polyline points="138,316 233,316 233,413 382,413" fill="none" stroke="#000" stroke-width="2.5"/>
<circle cx="138" cy="322" r="1.5" fill="#000"/>
<polyline points="140,346 202,346 202,431 351,431 351,453 383,453" fill="none" stroke="#c4262a" stroke-width="2.5"/>
<line x1="162" y1="438" x2="288" y2="438" stroke="#000" stroke-width="2.5"/>
<polyline points="163,467 330,467 330,438" fill="none" stroke="#c4262a" stroke-width="2.5"/>
<circle cx="383" cy="413" r="4.5" fill="#3a3a3a"/><circle cx="383" cy="453" r="4.5" fill="#a04050"/>
<circle cx="288" cy="438" r="4.5" fill="#606080"/><circle cx="330" cy="438" r="4.5" fill="#a04050"/>

<text x="52" y="317" font-family="Liberation Sans,sans-serif" font-size="22" fill="#000">RX -</text>
<text x="55" y="360" font-family="Liberation Sans,sans-serif" font-size="22" fill="#000">RX +</text>
<text x="62" y="437" font-family="Liberation Sans,sans-serif" font-size="22" fill="#000">TX -</text>
<text x="62" y="478" font-family="Liberation Sans,sans-serif" font-size="22" fill="#000">TX +</text>

<!-- disc 100k pot -->
<text x="108" y="536" font-family="Liberation Sans,sans-serif" font-size="16" fill="#2a2a9a">disc</text>
<text x="106" y="557" font-family="Liberation Sans,sans-serif" font-size="16" fill="#2a2a9a">100k</text>
<rect x="153" y="554" width="19" height="56" fill="none" stroke="#d01818" stroke-width="3"/>
<rect x="101" y="574" width="36" height="16" fill="none" stroke="#d01818" stroke-width="3"/>
<rect x="137" y="574" width="13" height="16" fill="none" stroke="#d01818" stroke-width="3"/>
<line x1="164" y1="559" x2="194" y2="559" stroke="#d01818" stroke-width="5"/>
<line x1="166" y1="582" x2="194" y2="582" stroke="#d01818" stroke-width="4"/>
<line x1="164" y1="604" x2="194" y2="604" stroke="#d01818" stroke-width="5"/>

<!-- green wires -->
<g fill="none" stroke="#b4d838" stroke-width="2.5">
<polyline points="193,560 404,537"/>
<polyline points="193,582 462,585 477,772"/>
<polyline points="193,605 420,607 420,590"/>
</g>

<!-- yellow wires -->
<g fill="none" stroke="#eef022" stroke-width="3">
<polyline points="580,419 539,419 531,660 524,852"/>
<polyline points="385,758 386,848 501,843"/>
<polyline points="603,742 604,840 547,842"/>
</g>

<!-- disc switch -->
<line x1="500" y1="843" x2="500" y2="864" stroke="#cc1818" stroke-width="4"/>
<line x1="523" y1="852" x2="523" y2="864" stroke="#444" stroke-width="3"/>
<line x1="546" y1="843" x2="546" y2="864" stroke="#cc1818" stroke-width="4"/>
<rect x="493" y="863" width="63" height="32" fill="#fff" stroke="#cc1818" stroke-width="3"/>
<rect x="513" y="897" width="25" height="16" fill="#fff" stroke="#cc1818" stroke-width="3"/>
<line x1="526" y1="914" x2="526" y2="977" stroke="#cc1818" stroke-width="5"/>
<text x="562" y="882" font-family="Liberation Sans,sans-serif" font-size="16" fill="#2a2a9a">disc sw</text>
</svg>
</body></html>
